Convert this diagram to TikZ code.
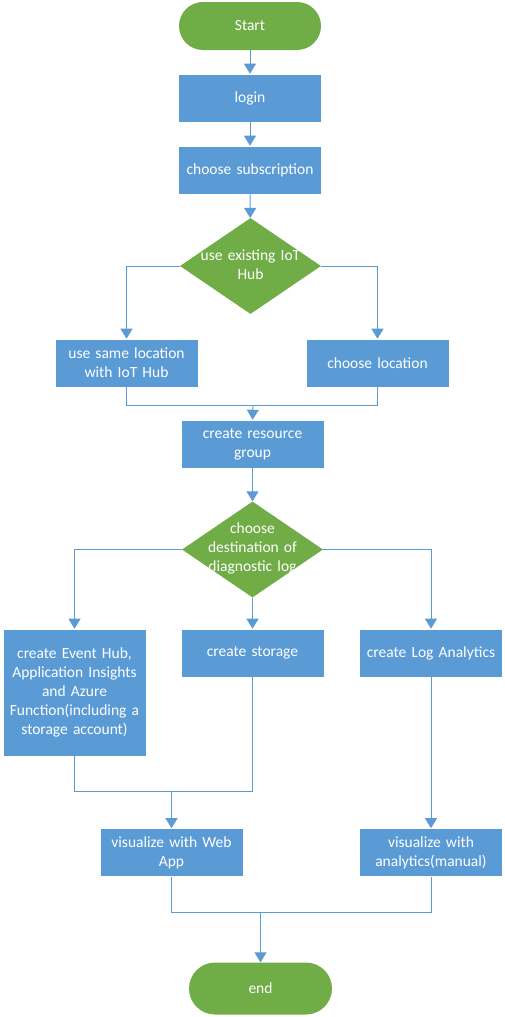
\documentclass[tikz,border=0pt]{standalone}
\usepackage{fontspec}
\setmainfont{Carlito}
\usetikzlibrary{shapes.geometric,arrows.meta}
\definecolor{flowblue}{HTML}{5B9BD5}
\definecolor{flowgreen}{HTML}{70AD47}
\definecolor{linkblue}{HTML}{5B9BD5}
\tikzset{
  base/.style={text=white,font=\fontsize{15.5}{19}\selectfont,align=center,inner sep=0pt},
  proc/.style={base,rectangle,fill=flowblue,draw=white,line width=0.6pt,minimum width=143pt,minimum height=48pt,text width=138pt},
  term/.style={base,rectangle,rounded corners=24pt,fill=flowgreen,minimum width=142pt,minimum height=48pt},
  decision/.style={diamond,fill=flowgreen,inner sep=0pt,minimum width=141pt,minimum height=96pt},
  link/.style={draw=linkblue,line width=0.9pt},
  arr/.style={link,-{Triangle[width=12pt,length=10pt]}},
  dtext/.style={base,text width=110pt}
}
\begin{document}
\begin{tikzpicture}[x=1pt,y=-1pt]
\useasboundingbox (0,0) rectangle (504,1017);
\node[term] (start) at (250,26) {Start};
\node[proc] (login) at (250,98) {login};
\node[proc] (sub) at (250,170) {choose subscription};
\node[decision,path picture={\node[dtext] at ([yshift=1pt]path picture bounding box.center) {use existing IoT\\Hub};}] (d1) at (250.5,266) {};
\node[proc] (same) at (126.5,363) {use same location\\with IoT Hub};
\node[proc] (loc) at (377.5,363) {choose location};
\node[proc] (rg) at (252.5,444) {create resource\\group};
\node[decision,path picture={\node[dtext] at ([yshift=1pt]path picture bounding box.center) {choose\\destination of\\diagnostic log};}] (d2) at (252.5,549.5) {};
\node[proc,minimum height=127pt] (eh) at (74.5,692.5) {create Event Hub,\\Application Insights\\and Azure\\Function(including a\\storage account)};
\node[proc] (st) at (252.5,653) {create storage};
\node[proc] (la) at (431,653) {create Log Analytics};
\node[proc] (wa) at (171.5,852.5) {visualize with Web\\App};
\node[proc] (va) at (431,852.5) {visualize with\\analytics(manual)};
\node[term,minimum height=52pt,rounded corners=26pt,minimum width=143pt] (end) at (260.5,988.5) {end};
\coordinate (m1) at (253,405);
\coordinate (m2) at (171.5,791);
\coordinate (m3) at (260.5,912.5);
\draw[arr] (start) -- (login);
\draw[arr] (login) -- (sub);
\draw[arr] (sub) -- (d1);
\draw[arr] (d1.west) -| (same.north);
\draw[arr] (d1.east) -| (loc.north);
\draw[link] (same.south) |- (m1);
\draw[link] (loc.south) |- (m1);
\draw[arr] (m1) -- (rg.north);
\draw[arr] (rg) -- (d2);
\draw[arr] (d2.west) -| (eh.north);
\draw[arr] (d2.south) -- (st.north);
\draw[arr] (d2.east) -| (la.north);
\draw[link] (eh.south) |- (m2);
\draw[link] (st.south) |- (m2);
\draw[arr] (m2) -- (wa.north);
\draw[arr] (la) -- (va);
\draw[link] (wa.south) |- (m3);
\draw[link] (va.south) |- (m3);
\draw[arr] (m3) -- (end.north);
\end{tikzpicture}
\end{document}
